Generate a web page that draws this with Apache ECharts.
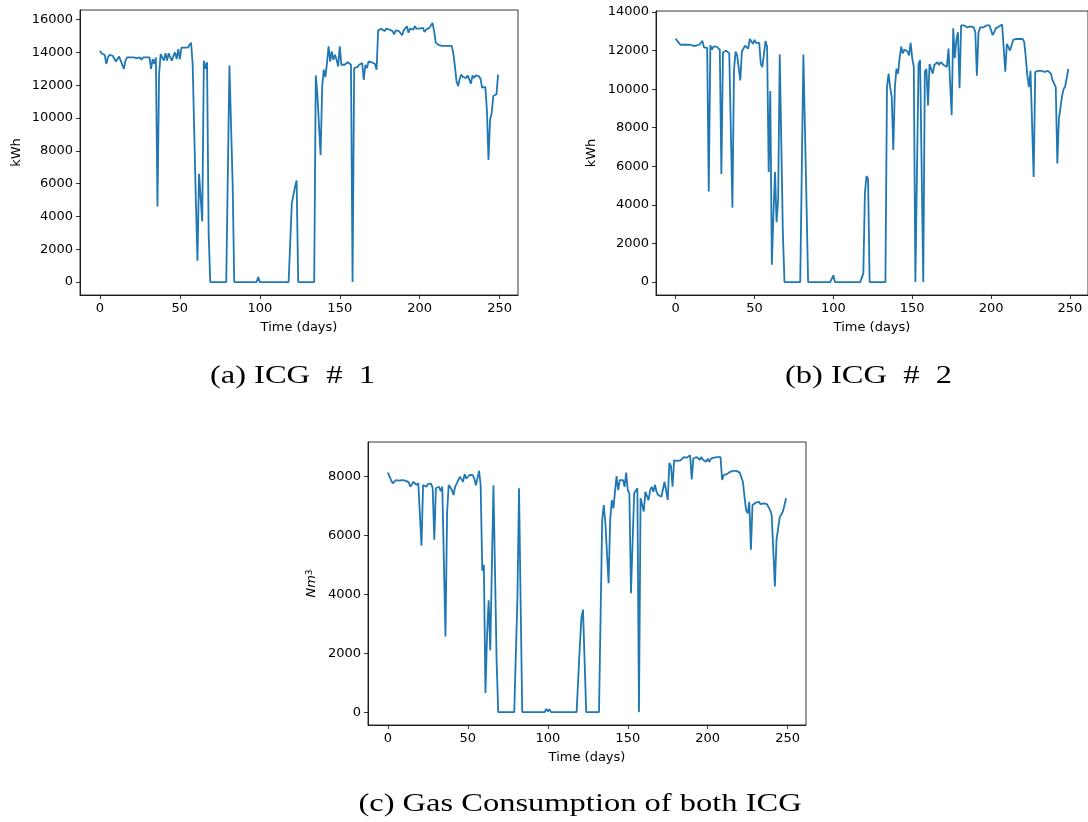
<!DOCTYPE html>
<html>
<head>
<meta charset="utf-8">
<script src="https://cdn.jsdelivr.net/npm/echarts@6/dist/echarts.min.js"></script>
<style>
html,body{margin:0;padding:0;background:#fff;}
#chart{width:1088px;height:822px;}
</style>
</head>
<body>
<div id="chart"></div>
<script>
// ---- data (one value per day, day index 0..249) ----
const icg1 = [
14100,13950,13900,13850,13300,13700,13850,13900,13800,13850,
13450,13600,13750,13500,13400,13000,13500,13700,13650,13700,
13750,13700,13700,13650,13600,13700,13550,13700,13600,13700,
13650,13700,13000,13600,13300,13700,4600,12700,13900,14000,
13500,13950,13500,13950,13700,13500,13800,14000,13600,14200,
13600,14300,14200,14300,14200,14300,14200,14600,13300,9100,
5000,1300,6600,6600,3700,13500,13000,13400,3000,0,
0,0,0,0,0,0,0,0,0,0,
0,13200,13100,6000,0,0,0,0,0,0,
0,0,0,0,0,0,0,0,0,300,
0,0,0,0,0,0,0,0,0,0,
0,0,0,0,0,0,0,0,0,0,
4800,4900,5800,6200,0,0,0,0,0,0,
0,0,0,0,0,12600,11400,11300,7750,11900,
12950,12500,13350,14370,13450,14070,13550,13860,13550,13150,
14370,13250,13250,13250,13300,13400,13300,13250,0,13050,
13150,13100,13250,13200,13350,12330,13250,13050,13450,13350,
13400,13300,13300,12950,15350,15400,15450,15400,15300,15450,
15500,15400,15350,15300,15100,15350,15450,15300,15200,15050,
15350,15300,15600,15200,15450,15500,15400,15600,15450,15550,
15450,15400,15500,15250,15400,15450,15500,15600,15800,15300,
14600,14500,14450,14400,14400,14400,14400,14400,14400,14400,
14400,13950,13150,12250,11950,12400,12650,12500,12600,12450,
12600,12550,12100,12600,12450,12600,12500,12550,12400,11850,
11800,11900,10500,7450,9900,10300,11350,11400,11450,12650
];
const icg2 = [
12620,12500,12450,12300,12250,12300,12350,12300,12300,12300,
12250,12250,12300,12250,12250,12300,12300,12500,12150,12100,
12150,4700,12270,12050,12200,12300,12200,12100,12050,5600,
11900,11850,12000,11950,11850,11850,3850,11000,11950,11750,
11650,10450,11950,12100,12250,12300,12100,12600,12500,12350,
12550,12400,12500,12400,11300,11150,11100,12500,12200,5700,
9900,900,3500,5700,3100,4300,11800,11850,2500,0,
0,0,0,0,0,0,0,0,0,0,
0,11800,11750,4000,0,0,0,0,0,0,
0,0,0,0,0,0,0,0,0,0,
350,0,0,0,0,0,0,0,0,0,
0,0,0,0,0,0,0,0,0,450,
4600,5500,5350,0,0,0,0,0,0,0,
0,0,0,0,10100,10800,10100,9600,6850,10100,
11050,10800,11600,12200,11850,12050,12050,11950,11750,12400,
11600,11150,0,0,11300,11500,11600,0,10900,11050,
9150,11300,11400,10800,11250,11150,11400,11250,11400,11300,
11250,11250,11150,12100,12200,8650,13150,11600,12550,12950,
10050,13300,13300,13300,13350,13200,13300,13250,13350,13200,
12950,10700,12900,13200,13250,13200,13250,13300,13250,13300,
13300,12800,12950,13150,13200,13250,13300,13350,13400,10900,
12350,12450,12000,12000,12550,12600,12600,12600,12600,12600,
12600,12450,11650,10700,10100,10950,11050,5450,10900,10950,
10950,10900,10950,10950,10900,10950,10950,10900,10800,10450,
10350,10100,6150,8450,8550,9650,10000,10150,10200,11050
];
const gas = [
8130,8000,7880,7770,7820,7880,7900,7860,7840,7880,
7880,7860,7880,7800,7650,7600,7820,7840,7710,7780,
7760,5650,7710,7760,7650,7740,7720,7760,7600,5850,
7600,7550,7650,7500,7650,7600,2570,6750,7710,7650,
7550,7370,7650,7760,7760,7990,8050,7820,8080,7930,
7930,8050,7990,8050,7930,7700,7650,8190,7710,4800,
5000,650,2600,3800,2100,2100,7700,7700,1700,0,
0,0,0,0,0,0,0,0,0,0,
0,3900,7600,3700,0,0,0,0,0,0,
0,0,0,0,0,0,0,0,0,110,
20,100,0,0,0,0,0,0,0,0,
0,0,0,0,0,0,0,0,0,0,
2230,3190,3480,3480,0,0,0,0,0,0,
0,0,0,0,6520,7030,6410,6350,4380,6520,
7200,6920,7480,8010,7540,7880,7840,7880,7650,8130,
7540,7430,4040,4040,7430,7480,7600,0,7260,7200,
6810,7480,7540,7200,7540,7650,7480,7710,7480,7370,
7310,7310,7260,7820,7760,7200,8460,8360,7650,8550,
8570,8530,8500,8550,8610,8660,8690,8640,8700,8720,
7900,8610,8570,8660,8720,8570,8660,8570,8610,8500,
8610,8500,8610,8550,8640,8610,8660,8720,8660,7880,
8050,8100,8080,8130,8160,8190,8190,8160,8190,8160,
8130,8100,7820,7310,6860,6750,7140,5510,7030,7090,
7110,7060,7140,7060,7110,7090,7110,7060,7030,6860,
6690,6640,4270,5850,5900,6610,6660,6810,7030,7260
];
const xTicks = [0, 50, 100, 150, 200, 250];
const yTicksA = [0, 2000, 4000, 6000, 8000, 10000, 12000, 14000, 16000];
const yTicksB = [0, 2000, 4000, 6000, 8000, 10000, 12000, 14000];
const yTicksC = [0, 2000, 4000, 6000, 8000];
const captions = ['(a) ICG  #  1', '(b) ICG  #  2', '(c) Gas Consumption of both ICG'];

// ---- styling helpers ----
const BLACK = '#000';
const tickFont = {fontFamily: 'DejaVu Sans', fontSize: 13, color: BLACK};
function plain(v){ return String(v); }
function pairs(arr){ return arr.map((v, i) => [i, v]); }
function xAx(g){
  return {
    type: 'value', gridIndex: g, min: -12.45, max: 261.45,
    axisLine: {show: true, onZero: false, lineStyle: {color: BLACK, width: 0.8}},
    axisTick: {show: true, inside: false, length: 4, lineStyle: {color: BLACK, width: 0.8}, customValues: xTicks},
    axisLabel: Object.assign({customValues: xTicks, margin: 7, formatter: plain}, tickFont),
    splitLine: {show: false},
    name: 'Time (days)', nameLocation: 'middle', nameGap: 26,
    nameTextStyle: tickFont
  };
}
function yAx(g, min, max, ticks, name, gap, rich){
  const o = {
    type: 'value', gridIndex: g, min: min, max: max,
    axisLine: {show: true, onZero: false, lineStyle: {color: BLACK, width: 0.8}},
    axisTick: {show: true, inside: false, length: 4, lineStyle: {color: BLACK, width: 0.8}, customValues: ticks},
    axisLabel: Object.assign({customValues: ticks, margin: 7, formatter: plain}, tickFont),
    splitLine: {show: false},
    name: name, nameLocation: 'middle', nameGap: gap,
    nameTextStyle: Object.assign({}, tickFont)
  };
  if (rich) o.nameTextStyle.rich = rich;
  return o;
}
function line(g, arr){
  return {
    type: 'line', xAxisIndex: g, yAxisIndex: g, data: pairs(arr),
    showSymbol: false, symbol: 'none', clip: true,
    lineStyle: {color: '#1f77b4', width: 1.8}, itemStyle: {color: '#1f77b4'}
  };
}
function caption(text, cx, cy, sx){
  return {
    type: 'text', x: cx, y: cy, scaleX: sx, silent: true,
    style: {text: text, fill: BLACK, font: '26px "Liberation Serif"', align: 'center', verticalAlign: 'middle'}
  };
}

const chart = echarts.init(document.getElementById('chart'), null, {renderer: 'canvas', width: 1088, height: 822});
chart.setOption({
  animation: false,
  backgroundColor: '#fff',
  grid: [
    {left: 80, top: 10, width: 438, height: 285, show: true, borderColor: BLACK, borderWidth: 0.8, backgroundColor: 'transparent'},
    {left: 656, top: 11, width: 438, height: 284, show: true, borderColor: BLACK, borderWidth: 0.8, backgroundColor: 'transparent'},
    {left: 368, top: 442, width: 438, height: 283, show: true, borderColor: BLACK, borderWidth: 0.8, backgroundColor: 'transparent'}
  ],
  xAxis: [xAx(0), xAx(1), xAx(2)],
  yAxis: [
    yAx(0, -790, 16590, yTicksA, 'kWh', 57),
    yAx(1, -670, 14050, yTicksB, 'kWh', 58),
    yAx(2, -437, 9171, yTicksC, '{i|Nm}{s|3}', 50, {
      i: {fontStyle: 'italic', fontFamily: 'DejaVu Sans', fontSize: 13, color: BLACK},
      s: {fontFamily: 'DejaVu Sans', fontSize: 9, color: BLACK, verticalAlign: 'top'}
    })
  ],
  series: [line(0, icg1), line(1, icg2), line(2, gas)],
  graphic: [
    caption(captions[0], 292.5, 376, 1.25),
    caption(captions[1], 868.5, 376, 1.25),
    caption(captions[2], 580, 804, 1.25)
  ]
});
</script>
</body>
</html>
